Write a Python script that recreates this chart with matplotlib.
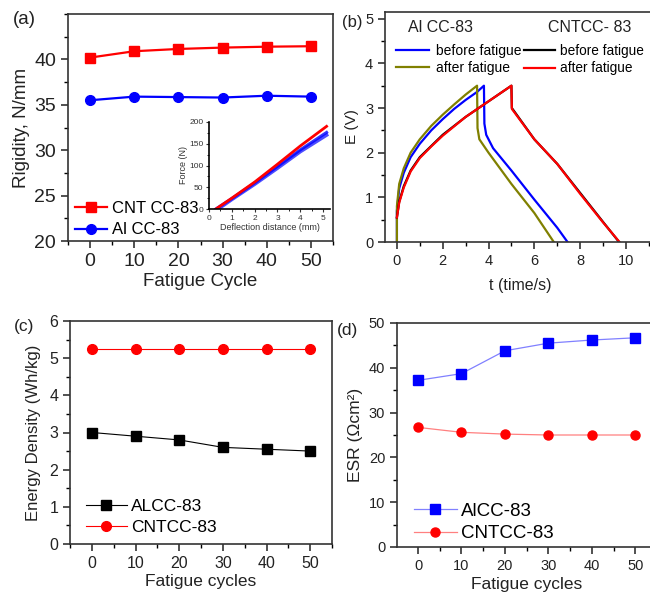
import matplotlib
matplotlib.use('Agg')
import matplotlib.pyplot as plt
from matplotlib.ticker import MultipleLocator
from matplotlib.lines import Line2D

plt.rcParams['font.family'] = ['Liberation Sans', 'DejaVu Sans']
plt.rcParams['axes.linewidth'] = 1.2

W, H = 650, 598

# ---- data ----
# (a) rigidity vs fatigue cycle
cycles = [0, 10, 20, 30, 40, 50]
rig_cnt = [40.2, 40.9, 41.15, 41.3, 41.4, 41.45]
rig_al = [35.5, 35.9, 35.85, 35.8, 36.0, 35.9]

# (a) inset force vs deflection
defl_red = [0.3, 1.0, 2.0, 3.0, 4.0, 5.15]
force_red = [0, 25, 62, 103, 145, 190]
defl_blue1 = [0.4, 1.0, 2.0, 3.0, 4.0, 5.15]
force_blue1 = [0, 22, 57, 94, 132, 170]
defl_blue2 = [0.3, 1.0, 2.0, 3.0, 4.0, 5.15]
force_blue2 = [0, 24, 60, 98, 136, 176]

# (b) charge/discharge curves
t_al_before = [0, 0.0, 0.1, 0.3, 0.6, 1.0, 1.5, 2.0, 2.5, 3.0, 3.5, 3.8, 3.82, 3.9, 4.2, 5.0, 6.0, 7.0, 7.45]
e_al_before = [0, 0.7, 1.2, 1.55, 1.9, 2.2, 2.5, 2.75, 2.98, 3.18, 3.36, 3.5, 2.65, 2.4, 2.1, 1.6, 0.95, 0.32, 0]
t_al_after = [0, 0.0, 0.1, 0.3, 0.6, 1.0, 1.5, 2.0, 2.5, 3.0, 3.5, 3.52, 3.6, 4.0, 5.0, 6.0, 6.85]
e_al_after = [0, 0.8, 1.3, 1.65, 2.0, 2.3, 2.6, 2.85, 3.08, 3.3, 3.5, 2.55, 2.3, 2.0, 1.3, 0.65, 0]
t_cnt_before = [0, 0.1, 0.3, 0.6, 1.0, 1.5, 2.0, 3.0, 4.0, 5.0, 5.02, 6.0, 7.0, 8.0, 9.0, 9.7]
e_cnt_before = [0.55, 0.9, 1.25, 1.6, 1.9, 2.15, 2.4, 2.8, 3.15, 3.5, 3.0, 2.3, 1.75, 1.1, 0.45, 0]
t_cnt_after = [0, 0.1, 0.3, 0.6, 1.0, 1.5, 2.0, 3.0, 4.0, 5.0, 5.02, 6.0, 7.0, 8.0, 9.0, 9.72]
e_cnt_after = [0.55, 0.88, 1.22, 1.58, 1.88, 2.14, 2.38, 2.8, 3.15, 3.5, 2.98, 2.3, 1.75, 1.08, 0.44, 0]

# (c) energy density
ed_al = [3.0, 2.9, 2.8, 2.6, 2.55, 2.5]
ed_cnt = [5.25, 5.25, 5.25, 5.25, 5.25, 5.25]

# (d) ESR
esr_al = [37.2, 38.7, 43.8, 45.5, 46.2, 46.7]
esr_cnt = [26.7, 25.6, 25.2, 25.0, 25.0, 25.0]


def rect(l, t, r, b):
    return [l / W, 1 - b / H, (r - l) / W, (b - t) / H]


def style(ax, size, xminor, yminor):
    ax.tick_params(which='major', direction='out', length=5, width=1.1,
                   labelsize=size, colors='#222222')
    ax.tick_params(which='minor', direction='out', length=3, width=1.0)
    ax.tick_params(top=False, right=False)
    ax.xaxis.set_minor_locator(MultipleLocator(xminor))
    ax.yaxis.set_minor_locator(MultipleLocator(yminor))
    for s in ax.spines.values():
        s.set_color('#333333')


fig = plt.figure(figsize=(6.5, 5.98), dpi=100)

# ---- (a) ----
ax = fig.add_axes(rect(68, 14, 333, 241))
ax.plot(cycles, rig_cnt, '-s', color='#ff0000', lw=1.6, ms=7, label='CNT CC-83')
ax.plot(cycles, rig_al, '-o', color='#0000ff', lw=1.6, ms=7, label='Al CC-83')
ax.set_xlim(-5, 55)
ax.set_ylim(20, 45)
ax.set_xticks(cycles)
ax.set_yticks([20, 25, 30, 35, 40])
style(ax, 14, 5, 2.5)
ax.set_xlabel('Fatigue Cycle', fontsize=13.5, color='#222222', labelpad=2)
ax.set_ylabel('Rigidity, N/mm', fontsize=13.5, color='#222222', labelpad=3)
ax.legend(loc='lower left', bbox_to_anchor=(-0.03, -0.05), frameon=False,
          fontsize=12, handlelength=1.9, handletextpad=0.3, labelspacing=0.4)
fig.text(13 / W, 1 - 20 / H, '(a)', fontsize=13.5, va='center', color='#222222')

axi = fig.add_axes(rect(209, 122, 330, 209))
axi.plot(defl_blue1, force_blue1, color='#2020ff', lw=2.6, alpha=0.8)
axi.plot(defl_blue2, force_blue2, color='#0000ff', lw=2.2, alpha=0.8)
axi.plot(defl_red, force_red, color='#ff0000', lw=2.0)
axi.set_xlim(0, 5.3)
axi.set_ylim(0, 200)
axi.set_xticks([0, 1, 2, 3, 4, 5])
axi.set_yticks([0, 50, 100, 150, 200])
axi.spines['top'].set_visible(False)
axi.spines['right'].set_visible(False)
axi.patch.set_alpha(0)
axi.tick_params(which='major', direction='out', length=2.5, width=0.8,
                labelsize=6, pad=1.5, colors='#333333')
axi.tick_params(which='minor', direction='out', length=1.5, width=0.6)
axi.xaxis.set_minor_locator(MultipleLocator(0.5))
axi.yaxis.set_minor_locator(MultipleLocator(25))
axi.set_xlabel('Deflection distance (mm)', fontsize=6.5, labelpad=1, color='#333333')
axi.set_ylabel('Force (N)', fontsize=6.5, labelpad=1, color='#333333')

# ---- (b) ----
ax = fig.add_axes(rect(385, 12, 655, 242))
ax.plot(t_al_before, e_al_before, color='#0000ff', lw=1.6)
ax.plot(t_al_after, e_al_after, color='#808000', lw=1.6)
ax.plot(t_cnt_before, e_cnt_before, color='#000000', lw=1.6)
ax.plot(t_cnt_after, e_cnt_after, color='#ff0000', lw=1.6)
ax.set_xlim(-0.52, 11.27)
ax.set_ylim(0, 5.15)
ax.set_xticks([0, 2, 4, 6, 8, 10])
ax.set_yticks([0, 1, 2, 3, 4, 5])
style(ax, 10.5, 1, 0.5)
ax.set_xlabel('t (time/s)', fontsize=11.5, color='#222222', labelpad=7)
ax.set_ylabel('E (V)', fontsize=11, color='#222222', labelpad=4)
fig.text(342 / W, 1 - 22 / H, '(b)', fontsize=12, va='center', color='#222222')
# legend drawn as two column groups with headers
hdr = dict(fontsize=11.5, va='center', color='#222222')
fig.text(408 / W, 1 - 28 / H, 'Al CC-83', **hdr)
fig.text(548 / W, 1 - 28 / H, 'CNTCC- 83', **hdr)
h1 = [Line2D([], [], color='#0000ff', lw=1.6), Line2D([], [], color='#808000', lw=1.6)]
h2 = [Line2D([], [], color='#000000', lw=1.6), Line2D([], [], color='#ff0000', lw=1.6)]
fig.legend(h1, ['before fatigue', 'after fatigue'], loc='upper left',
           bbox_to_anchor=(386 / W, 1 - 34 / H), frameon=False, fontsize=10,
           handlelength=2.4, handletextpad=0.5, labelspacing=0.25, borderpad=0.2)
fig.legend(h2, ['before fatigue', 'after fatigue'], loc='upper left',
           bbox_to_anchor=(514 / W, 1 - 34 / H), frameon=False, fontsize=9.8,
           handlelength=2.3, handletextpad=0.4, labelspacing=0.28, borderpad=0.2)

# ---- (c) ----
ax = fig.add_axes(rect(70, 321, 332, 544))
ax.plot(cycles, ed_al, '-s', color='#000000', mfc='#000000', lw=0.8, ms=7,
        label='ALCC-83')
ax.plot(cycles, ed_cnt, '-o', color='#ff0000', lw=0.8, ms=7, label='CNTCC-83')
ax.set_xlim(-5.05, 55)
ax.set_ylim(0, 6)
ax.set_xticks(cycles)
style(ax, 11.5, 5, 0.5)
ax.set_xlabel('Fatigue cycles', fontsize=12.5, color='#222222', labelpad=2)
ax.set_ylabel('Energy Density (Wh/kg)', fontsize=12, color='#222222', labelpad=6)
ax.legend(loc='lower left', bbox_to_anchor=(0.0, -0.03), frameon=False,
          fontsize=12.5, handlelength=2.4, handletextpad=0.2, labelspacing=0.35)
fig.text(14 / W, 1 - 326 / H, '(c)', fontsize=12.5, va='center', color='#222222')

# ---- (d) ----
ax = fig.add_axes(rect(397, 323, 657, 547))
ax.plot(cycles, esr_al, '-s', color='#8080ff', mfc='#0000ff', mec='#0000ff',
        lw=0.9, ms=6.5, label='AlCC-83')
ax.plot(cycles, esr_cnt, '-o', color='#ff8080', mfc='#ff0000', mec='#ff0000',
        lw=0.9, ms=6.5, label='CNTCC-83')
ax.set_xlim(-4.84, 55)
ax.set_ylim(0, 50)
ax.set_xticks(cycles)
style(ax, 10.5, 5, 5)
ax.set_xlabel('Fatigue cycles', fontsize=12.5, color='#222222', labelpad=3)
ax.set_ylabel('ESR (Ωcm²)', fontsize=12.5, color='#222222', labelpad=4)
ax.legend(loc='lower left', bbox_to_anchor=(0.0, -0.055), frameon=False,
          fontsize=13.5, handlelength=2.3, handletextpad=0.2, labelspacing=0.3)
fig.text(337 / W, 1 - 330 / H, '(d)', fontsize=12.5, va='center', color='#222222')

fig.savefig('out.png', dpi=100)
